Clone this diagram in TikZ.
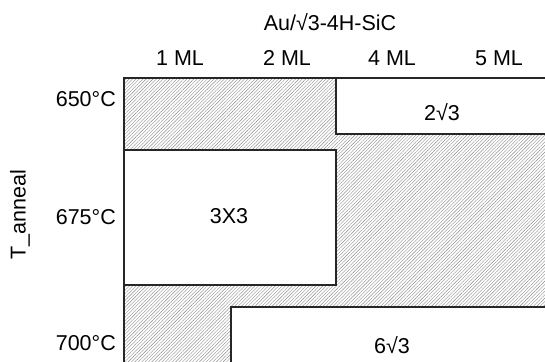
\documentclass[tikz,border=0pt]{standalone}
\usepackage{fontspec}
\setmainfont{Liberation Sans}
\usetikzlibrary{patterns.meta}
\begin{document}
\begin{tikzpicture}[x=1pt,y=-1pt,
  lbl/.style={font=\fontsize{21.5}{24}\selectfont, inner sep=0pt},
  hatch/.style={pattern={Lines[angle=45,distance=2.4pt,line width=0.4pt]}, pattern color=black!45},
  region/.style={draw=black!85, line width=1.3pt, fill=white}]
\useasboundingbox (0,0) rectangle (545,361);
\begin{scope}
\clip (0,0) rectangle (545,361);
\fill[white] (0,0) rectangle (545,361);
\fill[hatch] (124,78) rectangle (560,380);
\draw[region] (336,78) rectangle (560,134);
\draw[region] (124,150) rectangle (336,285);
\draw[region] (231,307) rectangle (560,380);
\draw[black!85, line width=1.3pt] (124,380) -- (124,78) -- (560,78);
\end{scope}
\node[lbl] (title) at (330,22) {Au/√3-4H-SiC};
\node[lbl] (c1) at (180,58) {1 ML};
\node[lbl] (c2) at (287,58) {2 ML};
\node[lbl] (c4) at (392,58) {4 ML};
\node[lbl] (c5) at (499,58) {5 ML};
\node[lbl, anchor=east] (r1) at (116,99) {650°C};
\node[lbl, anchor=east] (r2) at (116,217) {675°C};
\node[lbl, anchor=east] (r3) at (116,343) {700°C};
\node[lbl, rotate=90] (ylab) at (20,215) {T\_anneal};
\node[lbl] (b1) at (442,112) {2√3};
\node[lbl] (b2) at (229,216) {3X3};
\node[lbl] (b3) at (392,345) {6√3};
\end{tikzpicture}
\end{document}
